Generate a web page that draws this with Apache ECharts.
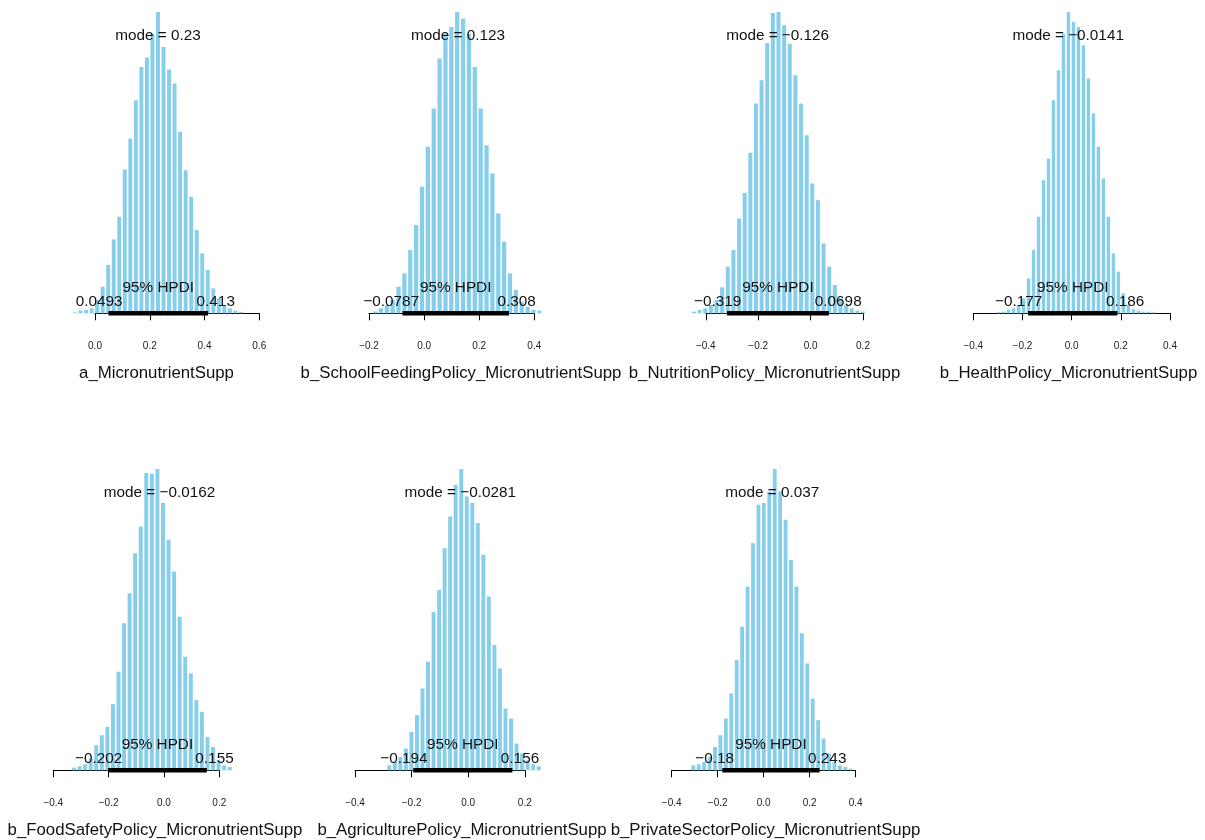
<!DOCTYPE html>
<html>
<head>
<meta charset="utf-8">
<script src="https://cdn.jsdelivr.net/npm/echarts@6/dist/echarts.min.js"></script>
<style>
  html, body { margin: 0; padding: 0; background: #fff; }
  #chart { width: 1205px; height: 840px; }
</style>
</head>
<body>
<div id="chart"></div>
<script>
// parameter names, posterior mode and 95% HPDI
const names = [
  'a_MicronutrientSupp',
  'b_SchoolFeedingPolicy_MicronutrientSupp',
  'b_NutritionPolicy_MicronutrientSupp',
  'b_HealthPolicy_MicronutrientSupp',
  'b_FoodSafetyPolicy_MicronutrientSupp',
  'b_AgriculturePolicy_MicronutrientSupp',
  'b_PrivateSectorPolicy_MicronutrientSupp'
]
const modes = [0.23, 0.123, -0.126, -0.0141, -0.0162, -0.0281, 0.037]
const hpdiLow = [0.0493, -0.0787, -0.319, -0.177, -0.202, -0.194, -0.18]
const hpdiHigh = [0.413, 0.308, 0.0698, 0.186, 0.155, 0.156, 0.243]

// axis ticks (first / last tick, step 0.2)
const tickMin = [0, -0.2, -0.4, -0.4, -0.4, -0.4, -0.4]
const tickMax = [0.6, 0.4, 0.2, 0.4, 0.2, 0.2, 0.4]

// histogram bins: left edge of first bin, bin width, relative bar heights
const binStart = [-0.0831, -0.1887, -0.4558, -0.3074, -0.3352, -0.2886, -0.3179]
const binWidth = [0.0202, 0.0213, 0.0215, 0.0203, 0.0201, 0.01955, 0.0236]
const hist1 = [3, 8, 10, 15, 40, 80, 145, 222, 290, 432, 525, 640, 740, 768, 840, 905, 800, 732, 690, 545, 430, 350, 250, 180, 130, 75, 45, 25, 15, 8, 4]
const hist2 = [5, 15, 25, 40, 80, 120, 190, 265, 380, 500, 615, 765, 840, 860, 905, 885, 840, 740, 615, 505, 420, 300, 215, 120, 70, 35, 20, 10, 8]
const hist3 = [5, 10, 15, 25, 40, 78, 140, 190, 285, 362, 482, 630, 700, 812, 902, 905, 865, 810, 715, 630, 535, 390, 340, 210, 140, 85, 45, 25, 15, 8, 5]
const hist4 = [3, 5, 10, 15, 25, 45, 105, 190, 290, 400, 465, 640, 730, 840, 905, 875, 860, 805, 705, 600, 500, 405, 290, 180, 125, 60, 25, 12, 8, 5, 5, 3]
const hist5 = [8, 12, 18, 35, 75, 105, 130, 198, 295, 440, 530, 650, 730, 890, 888, 902, 800, 690, 595, 460, 340, 290, 210, 175, 100, 70, 30, 15, 10]
const hist6 = [15, 25, 40, 65, 115, 165, 245, 325, 475, 540, 665, 760, 855, 902, 820, 800, 740, 645, 520, 375, 305, 185, 155, 80, 50, 30, 18, 12]
const hist7 = [15, 18, 25, 40, 70, 105, 155, 230, 330, 430, 550, 680, 795, 800, 835, 902, 835, 750, 630, 550, 410, 320, 215, 150, 95, 50, 25, 15, 10, 5]
const hists = [hist1, hist2, hist3, hist4, hist5, hist6, hist7]

// layout (px)
const axisLeft = [95, 369, 705.8, 973.3, 53.3, 355, 671.7]
const axisRight = [259.3, 534.3, 863, 1170, 219.3, 524.8, 855.7]
const labelCenter = [156.5, 461, 764.5, 1068.5, 155, 462, 765.5]
const rowTop = [12, 469]
const plotH = 301.3
const labelY = [373, 830]

const FONT = '"Liberation Sans", Arial, Helvetica, sans-serif'
const BAR = '#87CEEB'
const INK = '#111'

const ctx = document.createElement('canvas').getContext('2d')
function textWidth(s, size) {
  ctx.font = size + 'px ' + FONT
  return ctx.measureText(s).width
}
const num = (v) => (v < 0 ? '\u2212' : '') + String(Math.abs(v))
const tick = (v) => (v < -1e-9 ? '\u2212' : '') + Math.abs(v).toFixed(1)

const grid = [], xAxis = [], yAxis = [], series = [], graphic = []

names.forEach((name, i) => {
  const row = i < 4 ? 0 : 1
  const h = hists[i]
  const ymax = Math.max(...h)

  grid.push({ left: axisLeft[i], top: rowTop[row], width: axisRight[i] - axisLeft[i], height: plotH })
  xAxis.push({
    gridIndex: i, type: 'value', min: tickMin[i], max: tickMax[i], interval: 0.2,
    offset: 11.7,
    axisLine: { show: true, lineStyle: { color: '#000', width: 1 } },
    axisTick: { show: true, length: 7, lineStyle: { color: '#000', width: 1 } },
    axisLabel: { fontSize: 10, fontFamily: FONT, color: '#222', margin: 16, formatter: tick },
    splitLine: { show: false }
  })
  yAxis.push({ gridIndex: i, type: 'value', min: 0, max: ymax, show: false })

  // histogram bars (white gaps between bins)
  series.push({
    type: 'custom', xAxisIndex: i, yAxisIndex: i, silent: true, z: 2,
    data: h.map((v, k) => [binStart[i] + k * binWidth[i], binStart[i] + (k + 1) * binWidth[i], v]),
    renderItem(params, api) {
      const p0 = api.coord([api.value(0), api.value(2)])
      const p1 = api.coord([api.value(1), 0])
      return {
        type: 'rect',
        shape: { x: p0[0] + 0.8, y: p0[1], width: p1[0] - p0[0] - 1.6, height: Math.max(p1[1] - p0[1], 0.8) },
        style: { fill: BAR }
      }
    }
  })

  // HPDI bar, mode and interval labels
  series.push({
    type: 'custom', xAxisIndex: i, yAxisIndex: i, silent: true, z: 5,
    data: [[hpdiLow[i], hpdiHigh[i], modes[i], ymax]],
    renderItem(params, api) {
      const lo = api.coord([api.value(0), 0])
      const hi = api.coord([api.value(1), 0])
      const m = api.coord([api.value(2), 0.9 * api.value(3)])
      const base = lo[1]
      const sLo = num(api.value(0)), sHi = num(api.value(1))
      const fs = 15.3
      const txt = (text, x, y, align) => ({
        type: 'text',
        style: {
          text, x, y, fill: INK, fontSize: fs, fontFamily: FONT,
          align, textAlign: align, verticalAlign: 'middle', textVerticalAlign: 'middle'
        }
      })
      return {
        type: 'group',
        children: [
          { type: 'line', shape: { x1: lo[0], y1: base, x2: hi[0], y2: base }, style: { stroke: '#000', lineWidth: 4.5 } },
          txt('95% HPDI', (lo[0] + hi[0]) / 2, base - 26, 'center'),
          txt(sLo, lo[0] - 0.7 * textWidth(sLo, fs), base - 11.6, 'left'),
          txt(sHi, hi[0] - 0.3 * textWidth(sHi, fs), base - 11.6, 'left'),
          txt('mode = ' + num(api.value(2)), m[0], m[1] - 6, 'center')
        ]
      }
    }
  })

  graphic.push({
    type: 'text', x: labelCenter[i], y: labelY[row], silent: true,
    style: {
      text: name, fill: INK, fontSize: 16.8, fontFamily: FONT,
      align: 'center', textAlign: 'center', verticalAlign: 'middle', textVerticalAlign: 'middle'
    }
  })
})

const chart = echarts.init(document.getElementById('chart'))
chart.setOption({
  backgroundColor: '#fff',
  animation: false,
  grid, xAxis, yAxis, series, graphic
})
</script>
</body>
</html>
